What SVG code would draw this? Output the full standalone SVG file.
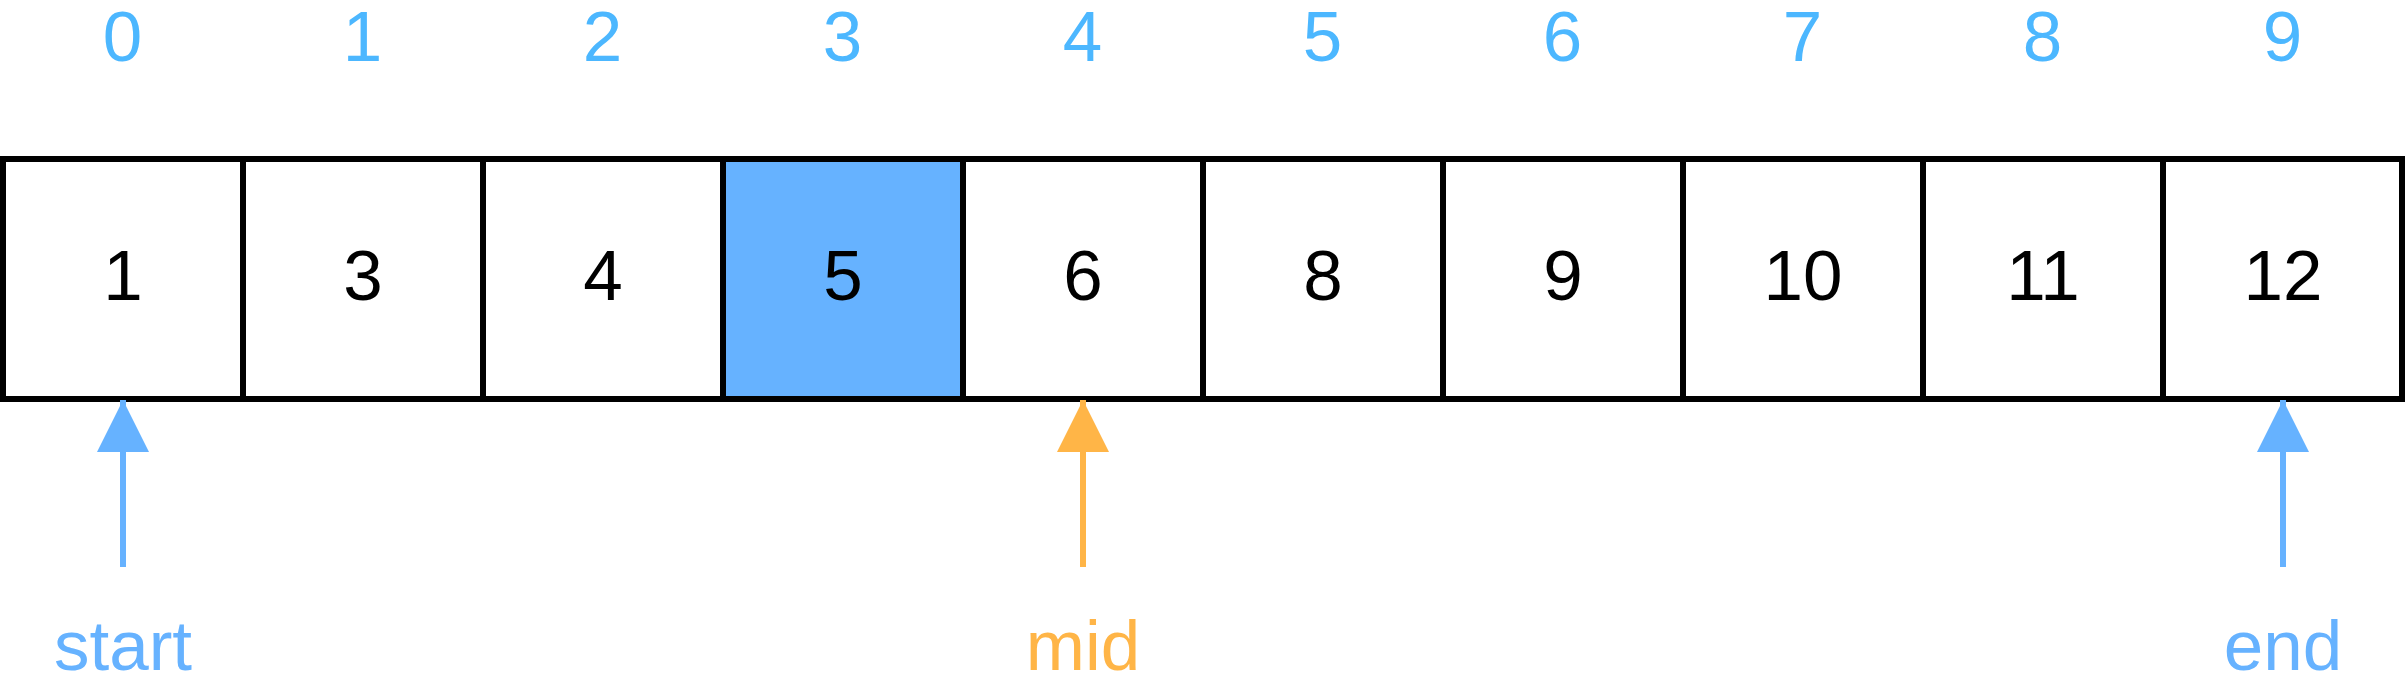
<svg xmlns="http://www.w3.org/2000/svg" width="2405" height="685" viewBox="0 0 2405 685">
<style>
.cell{fill:#FFFFFF;stroke:#000000;stroke-width:6}
.hl{fill:#66B2FF}
.val{font-family:"Liberation Sans",Arial,Helvetica,sans-serif;font-size:71px;fill:#000000;text-anchor:middle}
.idx{font-family:"Liberation Sans",Arial,Helvetica,sans-serif;font-size:71px;fill:#4CB7FF;text-anchor:middle}
.lbl{font-family:"Liberation Sans",Arial,Helvetica,sans-serif;font-size:71px;text-anchor:middle}
.blue{stroke:#66B2FF;stroke-width:6;fill:none}
.orange{stroke:#FFB547;stroke-width:6;fill:none}
</style>
<defs>
<marker id="ahBlue" markerUnits="userSpaceOnUse" markerWidth="52" markerHeight="54" viewBox="0 0 52 54" refX="52" refY="26" orient="auto">
<path d="M0,0 L52,26 L0,52 Z" fill="#66B2FF"/>
</marker>
<marker id="ahOrange" markerUnits="userSpaceOnUse" markerWidth="52" markerHeight="54" viewBox="0 0 52 54" refX="52" refY="26" orient="auto">
<path d="M0,0 L52,26 L0,52 Z" fill="#FFB547"/>
</marker>
</defs>
<rect width="2405" height="685" fill="#FFFFFF"/>
<g id="indices">
<text class="idx" x="122.5" y="61">0</text>
<text class="idx" x="362.5" y="61">1</text>
<text class="idx" x="602.5" y="61">2</text>
<text class="idx" x="842.5" y="61">3</text>
<text class="idx" x="1082.5" y="61">4</text>
<text class="idx" x="1322.5" y="61">5</text>
<text class="idx" x="1562.5" y="61">6</text>
<text class="idx" x="1802.5" y="61">7</text>
<text class="idx" x="2042.5" y="61">8</text>
<text class="idx" x="2282.5" y="61">9</text>
</g>
<g id="cell0"><rect class="cell" x="3" y="159" width="240" height="240"/><text class="val" x="123" y="300">1</text></g>
<g id="cell1"><rect class="cell" x="243" y="159" width="240" height="240"/><text class="val" x="363" y="300">3</text></g>
<g id="cell2"><rect class="cell" x="483" y="159" width="240" height="240"/><text class="val" x="603" y="300">4</text></g>
<g id="cell3"><rect class="cell hl" x="723" y="159" width="240" height="240"/><text class="val" x="843" y="300">5</text></g>
<g id="cell4"><rect class="cell" x="963" y="159" width="240" height="240"/><text class="val" x="1083" y="300">6</text></g>
<g id="cell5"><rect class="cell" x="1203" y="159" width="240" height="240"/><text class="val" x="1323" y="300">8</text></g>
<g id="cell6"><rect class="cell" x="1443" y="159" width="240" height="240"/><text class="val" x="1563" y="300">9</text></g>
<g id="cell7"><rect class="cell" x="1683" y="159" width="240" height="240"/><text class="val" x="1803" y="300">10</text></g>
<g id="cell8"><rect class="cell" x="1923" y="159" width="240" height="240"/><text class="val" x="2043" y="300">11</text></g>
<g id="cell9"><rect class="cell" x="2163" y="159" width="239" height="240"/><text class="val" x="2283" y="300">12</text></g>
<g id="connectors">
<line class="blue" x1="123" y1="567" x2="123" y2="400" marker-end="url(#ahBlue)"/>
<line class="orange" x1="1083" y1="567" x2="1083" y2="400" marker-end="url(#ahOrange)"/>
<line class="blue" x1="2283" y1="567" x2="2283" y2="400" marker-end="url(#ahBlue)"/>
</g>
<g id="label-start"><text class="lbl" x="123" y="670" fill="#66B2FF">start</text></g>
<g id="label-mid"><text class="lbl" x="1083" y="670" fill="#FFB547">mid</text></g>
<g id="label-end"><text class="lbl" x="2283" y="670" fill="#66B2FF">end</text></g>
</svg>
